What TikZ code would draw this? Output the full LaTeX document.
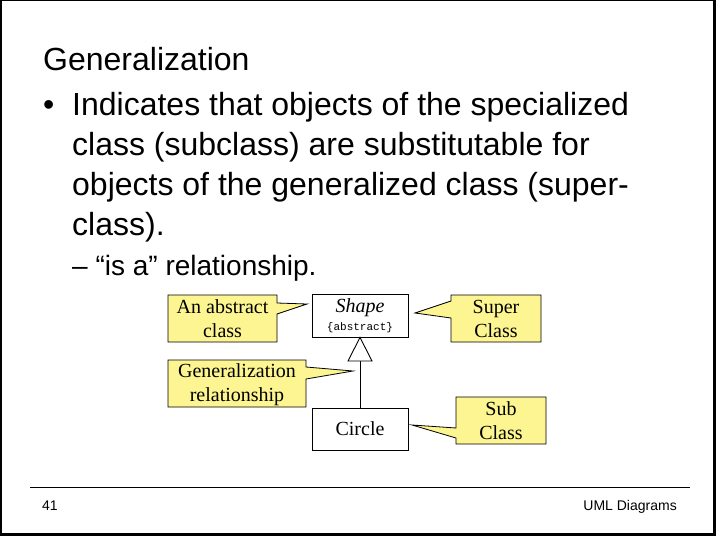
\documentclass[tikz,border=0pt]{standalone}
\usepackage{fontspec}
\setmainfont{Liberation Sans}
\newfontfamily\serifdiag{Liberation Serif}
\newfontfamily\monodiag{Liberation Mono}
\definecolor{calloutyellow}{RGB}{252,245,145}
\begin{document}
\begin{tikzpicture}[x=1pt,y=-1pt,
  txt/.style={anchor=base west,inner sep=0pt,font=\fontsize{32}{38}\selectfont},
  subtxt/.style={anchor=base west,inner sep=0pt,font=\fontsize{28}{34}\selectfont},
  foot/.style={anchor=base west,inner sep=0pt,font=\fontsize{14}{16}\selectfont},
  diag/.style={inner sep=0pt,align=center,font=\serifdiag\fontsize{20}{24}\selectfont},
  classbox/.style={draw,line width=0.9pt,fill=white,inner sep=0pt},
  callout/.style={draw,line width=0.8pt,fill=calloutyellow,line join=miter}
]
\useasboundingbox (0,0) rectangle (720,540);
\fill[white] (0,0) rectangle (720,540);
% slide frame
\fill[black] (0,0) rectangle (2,536);
\fill[black] (0,0) rectangle (716,1.5);
\fill[black] (713,0) rectangle (716,536);
\fill[black] (0,533) rectangle (716,536);

% text
\node[txt] (title) at (43,71) {Generalization};
\node[txt] (bul) at (43,116) {•};
\node[txt] (l1) at (72,116) {Indicates that objects of the specialized};
\node[txt] (l2) at (72,156) {class (subclass) are substitutable for};
\node[txt] (l3) at (72,196) {objects of the generalized class (super-};
\node[txt] (l4) at (72,236) {class).};
\node[subtxt] (l5) at (72,275) {– “is a” relationship.};

% footer
\coordinate (fl) at (30,487);
\coordinate (fr) at (690,487);
\draw[line width=1pt] (fl) -- (fr);
\node[foot] (pg) at (42,510) {41};
\node[foot,anchor=base east] (ft) at (677,510) {UML Diagrams};

% class boxes
\node[classbox,minimum width=96pt,minimum height=43pt] (shape) at (360,315.5) {};
\node[diag,font=\serifdiag\itshape\fontsize{20}{24}\selectfont] (shapename) at (360,307.5) {Shape};
\node[inner sep=0pt,font=\monodiag\fontsize{11}{12}\selectfont] (shapetag) at (360,328) {\{abstract\}};
\node[classbox,minimum width=96pt,minimum height=42pt,font=\serifdiag\fontsize{20}{24}\selectfont] (circle) at (360,429) {Circle};

% generalization arrow
\coordinate (tribase) at (360,361);
\draw[line width=0.9pt] (tribase) -- (circle.north);
\draw[line width=0.9pt,fill=white,line join=miter] (shape.south) -- (348,361) -- (372,361) -- cycle;

% callouts
\coordinate (tipA) at (307,304);
\draw[callout] (168,295) -- (277,295) -- (277,303) -- (tipA) -- (277,314) -- (277,342) -- (168,342) -- cycle;
\node[diag] (abstr) at (222.5,318.5) {An abstract\\class};

\coordinate (tipS) at (415,313);
\draw[callout] (451,295) -- (541,295) -- (541,342) -- (451,342) -- (451,318) -- (tipS) -- (451,301) -- cycle;
\node[diag] (sup) at (496,319) {Super\\Class};

\coordinate (tipG) at (353,371);
\draw[callout] (168,360) -- (306,360) -- (306,367) -- (tipG) -- (306,379) -- (306,407) -- (168,407) -- cycle;
\node[diag] (gen) at (237,384.5) {Generalization\\relationship};

\coordinate (tipB) at (412,425);
\draw[callout] (456,397) -- (546,397) -- (546,444) -- (456,444) -- (456,438) -- (tipB) -- (456,428) -- cycle;
\node[diag] (sub) at (501,421) {Sub\\Class};
\end{tikzpicture}
\end{document}
